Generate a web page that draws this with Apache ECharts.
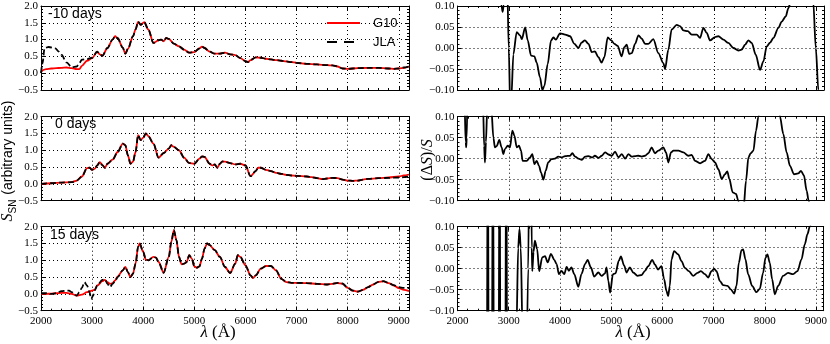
<!DOCTYPE html>
<html>
<head>
<meta charset="utf-8">
<title>SN spectra: G10 vs JLA</title>
<script src="https://cdn.jsdelivr.net/npm/echarts@6/dist/echarts.min.js"></script>
<style>
  html, body { margin: 0; padding: 0; background: #fff; }
  #chart { width: 830px; height: 344px; }
</style>
</head>
<body>
<div id="chart"></div>
<script>
// phase labels of the three rows
const phaseLabels = ["-10 days", "0 days", "15 days"];
const seriesNames = ["G10", "JLA"];

// ---- -10 days: spectra ----
const waveG10m10 = [2000,2050,2100,2200,2300,2400,2500,2600,2700,2750,2800,2900,3000,3100,3150,3200,3300,3400,3450,3500,3600,3650,3700,3800,3850,3900,3950,4020,4100,4200,4300,4350,4400,4450,4500,4600,4700,4800,4900,5000,5100,5150,5200,5300,5400,5500,5600,5700,5800,5900,6000,6050,6100,6200,6300,6400,6500,6600,6700,6800,6900,7000,7200,7400,7600,7700,7800,7900,8000,8200,8400,8600,8800,8900,9000,9100,9200];
const g10m10 = [0.03,0.1,0.12,0.14,0.15,0.16,0.17,0.15,0.12,0.12,0.22,0.37,0.45,0.64,0.56,0.52,0.75,1.0,1.1,1.04,0.76,0.58,0.72,1.1,1.3,1.53,1.44,1.52,1.3,0.9,0.98,1.0,0.95,1.05,1.02,0.88,0.8,0.7,0.61,0.63,0.74,0.79,0.75,0.64,0.58,0.58,0.61,0.56,0.54,0.45,0.36,0.33,0.39,0.47,0.46,0.43,0.41,0.39,0.37,0.35,0.33,0.31,0.28,0.26,0.24,0.23,0.2,0.14,0.13,0.15,0.16,0.16,0.14,0.13,0.14,0.16,0.2];
const waveJlam10 = [2000,2030,2070,2150,2280,2350,2400,2500,2600,2700,2750,2800,2900,3000,3100,3150,3200,3300,3400,3450,3500,3600,3650,3700,3800,3850,3900,3950,4020,4100,4200,4300,4350,4400,4450,4500,4600,4700,4800,4900,5000,5100,5150,5200,5300,5400,5500,5600,5700,5800,5900,6000,6050,6100,6200,6300,6400,6500,6600,6700,6800,6900,7000,7200,7400,7600,7700,7800,7900,8000,8200,8400,8600,8800,8900,9000,9100,9200];
const jlam10 = [0.0,0.3,0.75,0.78,0.74,0.64,0.55,0.32,0.18,0.2,0.3,0.4,0.42,0.46,0.64,0.56,0.52,0.75,1.0,1.1,1.04,0.76,0.58,0.72,1.1,1.3,1.53,1.44,1.52,1.3,0.9,0.98,1.0,0.95,1.05,1.02,0.88,0.8,0.7,0.61,0.63,0.74,0.79,0.75,0.64,0.58,0.58,0.61,0.56,0.54,0.45,0.36,0.33,0.39,0.47,0.46,0.43,0.41,0.39,0.37,0.35,0.33,0.31,0.28,0.26,0.24,0.23,0.2,0.14,0.13,0.15,0.16,0.16,0.14,0.13,0.14,0.17,0.2];

// ---- 0 days: spectra ----
const waveD0 = [2000,2200,2400,2600,2700,2800,2900,2950,3000,3050,3100,3150,3200,3250,3300,3400,3500,3600,3650,3700,3750,3800,3850,3900,3950,4000,4050,4100,4200,4300,4400,4500,4550,4600,4700,4800,4900,5000,5100,5150,5200,5300,5350,5400,5450,5500,5550,5600,5700,5800,5900,6000,6100,6200,6250,6300,6400,6500,6600,6700,6800,6900,7000,7200,7300,7400,7500,7600,7700,7800,7900,8000,8100,8200,8300,8400,8600,8800,9000,9100,9200];
const g10d0 = [0.0,0.02,0.04,0.05,0.1,0.22,0.47,0.48,0.42,0.45,0.55,0.65,0.56,0.48,0.6,0.72,0.95,1.2,1.15,0.85,0.6,0.66,0.95,1.45,1.3,1.38,1.5,1.42,1.2,0.78,0.92,1.05,1.15,1.1,1.0,0.78,0.62,0.6,0.75,0.82,0.8,0.6,0.55,0.58,0.48,0.6,0.67,0.66,0.62,0.58,0.6,0.55,0.23,0.38,0.48,0.48,0.42,0.38,0.33,0.3,0.27,0.25,0.24,0.22,0.2,0.17,0.14,0.16,0.18,0.17,0.13,0.1,0.09,0.1,0.13,0.15,0.17,0.19,0.22,0.25,0.28];
const jlad0 = [0.0,0.02,0.04,0.05,0.1,0.22,0.47,0.48,0.42,0.45,0.55,0.65,0.56,0.48,0.6,0.72,0.95,1.2,1.15,0.85,0.6,0.66,0.95,1.45,1.3,1.38,1.5,1.42,1.2,0.78,0.92,1.05,1.15,1.1,1.0,0.78,0.62,0.6,0.75,0.82,0.8,0.6,0.55,0.58,0.48,0.6,0.67,0.66,0.62,0.58,0.6,0.55,0.23,0.38,0.48,0.48,0.42,0.38,0.33,0.3,0.27,0.25,0.24,0.22,0.2,0.17,0.14,0.16,0.18,0.17,0.13,0.1,0.09,0.1,0.13,0.15,0.17,0.18,0.19,0.2,0.22];

// ---- 15 days: spectra ----
const waveG10p15 = [2000,2100,2200,2300,2400,2500,2600,2700,2800,2900,3000,3050,3100,3200,3250,3300,3350,3400,3450,3500,3600,3650,3700,3750,3800,3850,3900,3930,4000,4050,4100,4200,4250,4300,4400,4500,4550,4600,4650,4700,4750,4800,4850,4900,4950,5000,5050,5100,5150,5200,5250,5300,5400,5500,5600,5700,5800,5850,5900,6000,6100,6150,6200,6300,6400,6500,6600,6700,6800,6900,7000,7200,7400,7600,7700,7800,7900,8000,8100,8200,8300,8400,8500,8600,8700,8800,8900,9000,9100,9200];
const g10p15 = [0.0,0.0,0.01,0.02,0.03,0.03,0.0,-0.05,-0.02,0.05,0.1,0.12,0.25,0.38,0.42,0.35,0.3,0.32,0.4,0.52,0.7,0.8,0.65,0.5,0.6,0.9,1.4,1.5,1.25,1.02,1.0,1.1,1.08,0.95,0.63,1.1,1.55,1.9,1.6,1.1,0.88,0.9,0.95,1.15,1.05,0.82,0.78,0.82,1.05,1.35,1.5,1.45,1.3,1.1,0.8,0.62,0.9,1.15,1.1,0.85,0.55,0.47,0.55,0.75,0.83,0.83,0.7,0.45,0.35,0.33,0.33,0.32,0.3,0.28,0.3,0.32,0.3,0.18,0.1,0.07,0.12,0.2,0.28,0.36,0.37,0.32,0.25,0.17,0.12,0.08];
const waveJlap15 = [2000,2100,2200,2300,2400,2500,2550,2600,2700,2750,2800,2850,2900,2950,2980,3020,3050,3100,3200,3250,3300,3350,3400,3450,3500,3600,3650,3700,3750,3800,3850,3900,3930,4000,4050,4100,4200,4250,4300,4400,4500,4550,4600,4650,4700,4750,4800,4850,4900,4950,5000,5050,5100,5150,5200,5250,5300,5400,5500,5600,5700,5800,5850,5900,6000,6100,6150,6200,6300,6400,6500,6600,6700,6800,6900,7000,7200,7400,7600,7700,7800,7900,8000,8100,8200,8300,8400,8500,8600,8700,8800,8900,9000,9100,9200];
const jlap15 = [0.02,0.02,0.0,0.02,0.08,0.1,0.1,0.05,-0.05,0.05,0.18,0.35,0.25,0.05,-0.15,-0.05,0.1,0.25,0.42,0.44,0.3,0.2,0.3,0.38,0.5,0.7,0.8,0.65,0.5,0.6,0.9,1.4,1.5,1.25,1.02,1.0,1.1,1.08,0.95,0.63,1.1,1.55,1.9,1.6,1.1,0.88,0.9,0.95,1.15,1.05,0.82,0.78,0.82,1.05,1.35,1.5,1.45,1.3,1.1,0.8,0.62,0.9,1.15,1.1,0.85,0.55,0.47,0.55,0.75,0.83,0.83,0.7,0.45,0.35,0.33,0.33,0.32,0.3,0.28,0.3,0.33,0.31,0.18,0.1,0.07,0.12,0.2,0.28,0.36,0.38,0.33,0.26,0.2,0.18,0.17];

// ---- relative differences (right column) ----
const waveDiffm10 = [2000,2500,2800,2860,2880,2900,2940,2970,3000,3030,3050,3090,3155,3220,3255,3320,3370,3435,3500,3545,3610,3655,3695,3760,3825,3870,3920,4000,4100,4195,4280,4360,4420,4485,4555,4620,4680,4750,4810,4865,4930,5000,5060,5125,5200,5255,5300,5350,5400,5465,5530,5595,5660,5723,5820,5918,6015,6050,6113,6178,6276,6341,6407,6491,6569,6667,6732,6797,6862,6927,7024,7089,7187,7284,7382,7480,7545,7610,7675,7740,7818,7902,7967,8033,8098,8163,8260,8325,8403,8455,8500,8600,8800,8940,8990,9040,9100,9150];
const diffm10 = [0.3,0.3,0.15,0.1,0.086,0.1,0.2,0.15,0.0,-0.15,-0.12,-0.015,0.038,0.03,0.021,0.049,0.018,-0.018,-0.02,-0.035,-0.07,-0.1,-0.09,-0.038,0.018,0.025,0.02,0.035,0.032,0.028,0.01,0.0,0.013,0.018,0.01,-0.01,-0.008,-0.022,-0.035,-0.022,0.025,0.018,0.01,0.005,-0.02,0.002,0.008,-0.014,-0.012,0.01,0.03,0.022,0.01,0.01,0.021,-0.012,-0.036,-0.05,-0.004,0.044,0.055,0.052,0.042,0.04,0.032,0.032,0.024,0.048,0.036,0.018,0.026,0.028,0.02,0.012,0.0,-0.006,-0.004,0.008,0.018,0.012,-0.016,-0.052,-0.032,0.004,0.013,0.024,0.048,0.063,0.075,0.095,0.11,0.16,0.2,0.11,0.0,-0.1,-0.2,-0.25];
const waveDiffd0 = [2000,2100,2140,2160,2170,2180,2200,2300,2450,2500,2520,2535,2555,2580,2620,2660,2700,2730,2765,2815,2860,2895,2925,2980,3025,3070,3110,3155,3200,3240,3270,3350,3415,3460,3500,3545,3590,3630,3675,3720,3770,3835,3900,3965,4030,4100,4195,4240,4295,4360,4425,4490,4555,4630,4680,4750,4815,4880,4945,5010,5075,5140,5205,5270,5335,5400,5465,5530,5595,5658,5723,5788,5853,5918,6015,6068,6113,6165,6211,6309,6406,6504,6569,6634,6732,6829,6894,6959,7024,7089,7154,7219,7264,7303,7368,7433,7479,7530,7580,7629,7675,7720,7772,7824,7870,7950,8100,8250,8291,8356,8421,8486,8564,8648,8700,8759,8811,8850,8950,9150];
const diffd0 = [0.3,0.25,0.12,0.04,0.027,0.05,0.2,0.35,0.3,0.12,0.03,-0.009,0.04,0.12,0.2,0.12,0.05,0.027,0.03,0.045,0.027,0.011,0.023,0.031,0.027,0.067,0.055,0.027,0.031,0.019,-0.005,-0.005,0.003,0.011,-0.013,-0.005,-0.017,-0.033,-0.05,-0.029,-0.009,-0.001,0.0,0.005,0.003,0.006,0.007,0.013,0.005,0.0,-0.003,0.005,0.006,0.003,0.007,0.002,0.007,0.015,0.01,0.007,0.017,0.003,0.011,0.0,0.011,0.005,0.006,0.007,0.005,0.007,0.013,0.027,0.013,0.019,0.027,0.015,-0.009,0.015,0.019,0.019,0.015,0.007,0.009,-0.005,-0.011,-0.005,0.011,-0.001,-0.009,-0.025,-0.048,-0.037,-0.03,-0.048,-0.08,-0.084,-0.1,-0.14,-0.12,-0.052,0.003,0.013,0.019,0.067,0.1,0.16,0.2,0.16,0.1,0.059,0.015,-0.017,-0.037,-0.035,-0.029,-0.04,-0.076,-0.1,-0.16,-0.25];
const waveDiffp15 = [2000,2400,2570,2592,2612,2670,2690,2715,2800,2822,2840,2930,2952,2972,3100,3150,3185,3210,3235,3270,3330,3380,3410,3435,3450,3460,3485,3510,3555,3595,3655,3710,3760,3825,3890,3935,3980,4030,4085,4130,4175,4225,4280,4360,4420,4490,4540,4605,4670,4750,4815,4880,4910,4945,4980,5035,5085,5150,5190,5255,5300,5365,5430,5515,5595,5660,5723,5802,5853,5918,5983,6035,6080,6113,6146,6178,6230,6309,6374,6439,6517,6602,6687,6752,6830,6894,6959,7011,7057,7122,7187,7271,7336,7402,7447,7493,7545,7577,7623,7675,7753,7837,7902,7967,8013,8052,8098,8143,8195,8260,8358,8455,8553,8638,8716,8781,8833,8878,9000,9150];
const diffp15 = [-0.3,-0.35,-0.4,0.4,-0.4,-0.4,0.4,-0.4,-0.4,0.4,-0.4,-0.4,0.4,-0.4,-0.4,-0.15,0.05,0.095,0.05,-0.15,-0.4,0.0,0.4,0.3,0.05,-0.006,0.04,0.067,0.047,-0.006,0.027,0.03,0.015,0.035,0.021,0.011,-0.013,-0.005,-0.013,0.004,-0.005,0.003,-0.013,-0.043,-0.013,0.011,0.021,0.003,-0.019,-0.009,-0.017,-0.011,0.003,-0.029,-0.057,-0.013,-0.011,0.019,0.029,0.007,-0.009,0.003,-0.009,-0.017,-0.015,-0.005,0.006,0.021,0.01,-0.002,0.006,-0.025,-0.053,-0.065,-0.041,0.022,0.042,0.034,0.018,0.002,-0.006,-0.017,-0.01,-0.006,-0.013,-0.021,-0.006,0.0,-0.006,-0.029,-0.039,-0.041,-0.049,-0.059,-0.041,0.014,0.044,0.046,0.022,-0.013,-0.041,-0.056,-0.048,-0.01,0.026,0.034,0.014,-0.025,-0.061,-0.041,-0.017,-0.01,-0.013,-0.006,0.022,0.058,0.082,0.1,0.16,0.22];

const chart = echarts.init(document.getElementById("chart"));

const rowTops = [6, 116.7, 226.7];
const minus = s => s.replace("-", "\u2212");
const dotted = { color: "#000", width: 1, type: [1, 3] };
const blackLine = { color: "#000", width: 1 };
const tickFont = { fontFamily: "Liberation Serif", fontSize: 11, color: "#000" };

let grids = [], xAxes = [], yAxes = [], series = [];

function addPanel(left, width, top, xMax, yMin, yMax, yStep, yDigits, showX) {
  const g = grids.length;
  grids.push({ left: left, top: top, width: width, height: 84 });
  const xi = xAxes.length;
  ["bottom", "top"].forEach(pos => {
    // major ticks
    xAxes.push({
      type: "value", gridIndex: g, position: pos, min: 2000, max: xMax, interval: 1000,
      axisLine: { show: true, onZero: false, lineStyle: blackLine },
      axisTick: { show: true, inside: true, length: 4, lineStyle: blackLine },
      axisLabel: Object.assign({ show: showX && pos === "bottom", margin: 5, showMaxLabel: false,
        formatter: v => (v % 1000 === 0 ? String(v) : "") }, tickFont),
      splitLine: { show: pos === "bottom", lineStyle: dotted }
    });
    // minor ticks
    xAxes.push({
      type: "value", gridIndex: g, position: pos, min: 2000, max: xMax, interval: 200,
      axisLine: { show: false, onZero: false },
      axisTick: { show: true, inside: true, length: 2, lineStyle: blackLine },
      axisLabel: { show: false }, splitLine: { show: false }
    });
  });
  const yi = yAxes.length;
  ["left", "right"].forEach(pos => {
    yAxes.push({
      type: "value", gridIndex: g, position: pos, min: yMin, max: yMax, interval: yStep,
      axisLine: { show: true, onZero: false, lineStyle: blackLine },
      axisTick: { show: true, inside: true, length: 4, lineStyle: blackLine },
      minorTick: { show: true, splitNumber: 5, length: 2, lineStyle: blackLine },
      axisLabel: Object.assign({ show: pos === "left", margin: 3,
        formatter: v => minus(v.toFixed(yDigits)) }, tickFont),
      splitLine: { show: pos === "left", lineStyle: dotted }
    });
  });
  return { xi: xi, yi: yi };
}

function line(name, wave, vals, ax, style, z) {
  return {
    name: name, type: "line", xAxisIndex: ax.xi, yAxisIndex: ax.yi, z: z,
    data: wave.map((w, i) => [w, vals[i]]),
    symbol: "none", showSymbol: false, smooth: 0.3, smoothMonotone: "x", clip: true,
    lineStyle: style, emphasis: { disabled: true }
  };
}

const redStyle = { color: "#ff0000", width: 1.8 };
const dashStyle = { color: "#000", width: 1.8, type: [6, 3] };
const diffStyle = { color: "#000", width: 1.8 };

const spec = [
  [waveG10m10, g10m10, waveJlam10, jlam10],
  [waveD0, g10d0, waveD0, jlad0],
  [waveG10p15, g10p15, waveJlap15, jlap15]
];
const diffs = [[waveDiffm10, diffm10], [waveDiffd0, diffd0], [waveDiffp15, diffp15]];

for (let r = 0; r < 3; r++) {
  const a = addPanel(41, 368, rowTops[r], 9200, -0.5, 2.0, 0.5, 1, r === 2);
  series.push(line(seriesNames[0], spec[r][0], spec[r][1], a, redStyle, 2));
  series.push(line(seriesNames[1], spec[r][2], spec[r][3], a, dashStyle, 3));
}
for (let r = 0; r < 3; r++) {
  const a = addPanel(457.5, 366.5, rowTops[r], 9150, -0.1, 0.1, 0.05, 2, r === 2);
  series.push(line("diff" + r, diffs[r][0], diffs[r][1], a, diffStyle, 2));
}

const sansText = (x, y, text, size) => ({
  type: "text", left: x, top: y, z: 10,
  style: { text: text, font: size + "px 'Liberation Sans'", fill: "#000" }
});
const labelPos = [[48, 7], [55, 117], [50, 228]];

const graphic = labelPos.map((p, i) => sansText(p[0], p[1], phaseLabels[i], 14));

// legend of the top-left panel
[[redStyle.color, null, 23], ["#000", [10, 7], 42]].forEach((l, i) => {
  graphic.push({
    type: "line", z: 10,
    shape: { x1: 327, y1: l[2], x2: 360, y2: l[2] },
    style: { stroke: l[0], lineWidth: 1.8, lineDash: l[1] }
  });
  graphic.push({
    type: "text", x: 373, y: l[2], z: 10,
    style: { text: seriesNames[i], font: "13px 'Liberation Sans'", fill: "#000", verticalAlign: "middle" }
  });
});

[218, 633].forEach(cx => {
  graphic.push({
    type: "text", x: cx, y: 333, z: 10,
    style: {
      text: "{i|\u03bb} (\u00c5)", align: "center", verticalAlign: "middle",
      font: "17px 'Liberation Serif'", fill: "#000",
      rich: { i: { fontStyle: "italic", fontFamily: "Liberation Serif", fontSize: 17 } }
    }
  });
});
graphic.push({
  type: "text", x: 8, y: 161, rotation: Math.PI / 2, z: 10,
  style: {
    text: "{s|S}{sub|SN}{t| (arbitrary units)}", align: "center", verticalAlign: "middle",
    font: "14px 'Liberation Sans'", fill: "#000",
    rich: {
      s: { fontStyle: "italic", fontFamily: "Liberation Serif", fontSize: 16, lineHeight: 20, verticalAlign: "middle" },
      sub: { fontFamily: "Liberation Sans", fontSize: 10, lineHeight: 10, verticalAlign: "bottom", padding: [0, 1, 0, 0] },
      t: { fontFamily: "Liberation Sans", fontSize: 14, lineHeight: 20, verticalAlign: "middle" }
    }
  }
});
graphic.push({
  type: "text", x: 428, y: 160, rotation: Math.PI / 2, z: 10,
  style: {
    text: "(\u0394{i|S})/{i|S}", align: "center", verticalAlign: "middle",
    font: "16px 'Liberation Serif'", fill: "#000",
    rich: { i: { fontStyle: "italic", fontFamily: "Liberation Serif", fontSize: 16 } }
  }
});

chart.setOption({
  animation: false,
  backgroundColor: "#fff",
  grid: grids,
  xAxis: xAxes,
  yAxis: yAxes,
  graphic: graphic,
  series: series
});
</script>
</body>
</html>
